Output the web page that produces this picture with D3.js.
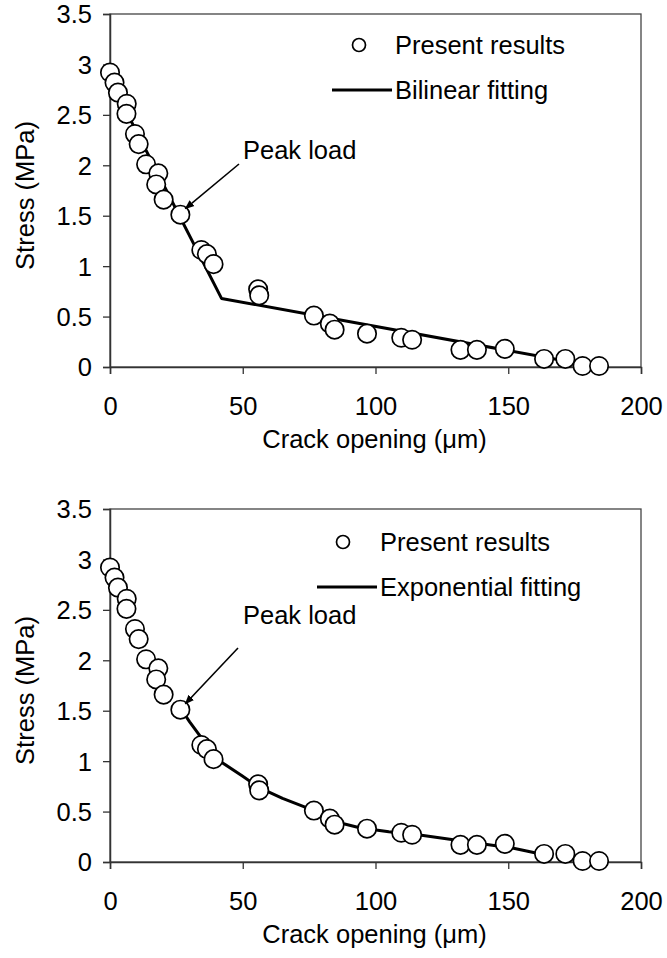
<!DOCTYPE html>
<html>
<head>
<meta charset="utf-8">
<script src="https://cdn.jsdelivr.net/npm/d3@7"></script>
<style>
  body { margin: 0; background: #fff; }
  svg { display: block; font-family: "Liberation Sans", Arial, sans-serif; }
</style>
</head>
<body>
<svg id="chart" width="667" height="958"></svg>
<script>
// ---- data ----
const crackOpening = [0, 1.7, 3, 6.3, 6.2, 9.4, 10.8, 13.6, 18.2, 17.4, 20.2, 26.5, 34.4, 36.5, 39, 55.8, 56.2, 76.8, 82.8, 84.6, 96.8, 109.7, 113.8, 132, 138.2, 148.7, 163.5, 171.5, 178, 184.2];
const stress = [2.92, 2.82, 2.72, 2.61, 2.51, 2.31, 2.21, 2.01, 1.92, 1.81, 1.66, 1.51, 1.16, 1.12, 1.02, 0.77, 0.71, 0.51, 0.43, 0.37, 0.33, 0.29, 0.27, 0.17, 0.17, 0.18, 0.08, 0.08, 0.01, 0.01];

const bilinearX = [0, 42, 184];
const bilinearY = [2.85, 0.68, 0.0];

const exponentialX = [26.7, 30, 35, 42, 50, 56, 65, 73, 80, 88, 94, 105, 116, 128, 140, 152, 160, 165];
const exponentialY = [1.52, 1.39, 1.21, 0.99, 0.85, 0.74, 0.63, 0.55, 0.47, 0.38, 0.34, 0.30, 0.27, 0.225, 0.18, 0.136, 0.092, 0.07];

const xTicks = [0, 50, 100, 150, 200];
const yTicks = [0, 0.5, 1, 1.5, 2, 2.5, 3, 3.5];

const peakIndex = 11;

const panels = [
  { top: 14, bottom: 367, fitX: bilinearX, fitY: bilinearY, fitLabel: "Bilinear fitting",
    legCircle: [359, 45], legText: [395, 45], legLine: [332, 392, 90], legText2: [395, 90],
    peakText: [243, 150], arrowFrom: [239, 164] },
  { top: 509, bottom: 862, fitX: exponentialX, fitY: exponentialY, fitLabel: "Exponential fitting",
    legCircle: [343, 542], legText: [380, 542], legLine: [317, 377, 587], legText2: [380, 587],
    peakText: [243, 615], arrowFrom: [238, 648] }
];

const svg = d3.select("#chart");
const FS = 25.5;
const left = 110, right = 641;

svg.append("defs").append("marker")
  .attr("id", "arrow").attr("viewBox", "0 0 10 10")
  .attr("refX", 9).attr("refY", 5)
  .attr("markerWidth", 6).attr("markerHeight", 6)
  .attr("orient", "auto")
  .append("path").attr("d", "M0,1 L10,5 L0,9 z").attr("fill", "#000");

panels.forEach(p => {
  const x = d3.scaleLinear().domain([0, 200]).range([left, right]);
  const y = d3.scaleLinear().domain([0, 3.5]).range([p.bottom, p.top]);
  const g = svg.append("g");

  // frame
  g.append("rect").attr("x", left).attr("y", p.top)
    .attr("width", right - left).attr("height", p.bottom - p.top)
    .attr("fill", "none").attr("stroke", "#444").attr("stroke-width", 1.3);

  // axes
  const xAxis = d3.axisBottom(x).tickValues(xTicks).tickSize(7).tickFormat(d3.format("d"));
  const gx = g.append("g").attr("transform", `translate(0,${p.bottom})`).call(xAxis);
  gx.select(".domain").attr("stroke", "#333").attr("stroke-width", 1.5);
  gx.selectAll(".tick line").attr("stroke", "#333").attr("stroke-width", 1.3);
  gx.selectAll(".tick text").attr("font-size", FS).attr("fill", "#000")
    .attr("y", 48).attr("dy", 0).attr("font-family", "Liberation Sans, Arial, sans-serif");

  const yAxis = d3.axisLeft(y).tickValues(yTicks).tickSize(7).tickFormat(d => d3.format("~g")(d));
  const gy = g.append("g").attr("transform", `translate(${left},0)`).call(yAxis);
  gy.select(".domain").attr("stroke", "#333").attr("stroke-width", 1.5);
  gy.selectAll(".tick line").attr("stroke", "#333").attr("stroke-width", 1.3);
  gy.selectAll(".tick text").attr("font-size", FS).attr("fill", "#000")
    .attr("x", -18).attr("dy", "0.35em").attr("font-family", "Liberation Sans, Arial, sans-serif");

  // axis titles
  g.append("text").attr("x", (left + right) / 2 - 1).attr("y", p.bottom + 81)
    .attr("text-anchor", "middle").attr("font-size", FS).text("Crack opening (\u03bcm)");
  g.append("text")
    .attr("transform", `translate(25,${(p.top + p.bottom) / 2 + 5}) rotate(-90)`)
    .attr("text-anchor", "middle").attr("dy", "0.35em").attr("font-size", FS)
    .text("Stress (MPa)");

  // fit line
  const fit = p.fitX.map((v, i) => [v, p.fitY[i]]);
  g.append("path").datum(fit)
    .attr("d", d3.line().x(d => x(d[0])).y(d => y(d[1])))
    .attr("fill", "none").attr("stroke", "#000").attr("stroke-width", 3)
    .attr("stroke-linejoin", "round");

  // points
  const pts = crackOpening.map((v, i) => [v, stress[i]]);
  g.selectAll("circle.pt").data(pts).join("circle").attr("class", "pt")
    .attr("cx", d => x(d[0])).attr("cy", d => y(d[1])).attr("r", 9.2)
    .attr("fill", "#fff").attr("stroke", "#000").attr("stroke-width", 1.7);

  // peak load annotation
  const px = x(crackOpening[peakIndex]), py = y(stress[peakIndex]);
  g.append("line").attr("x1", p.arrowFrom[0]).attr("y1", p.arrowFrom[1])
    .attr("x2", px + 5).attr("y2", py - 6)
    .attr("stroke", "#000").attr("stroke-width", 1.6).attr("marker-end", "url(#arrow)");
  g.append("text").attr("x", p.peakText[0]).attr("y", p.peakText[1]).attr("dy", "0.35em")
    .attr("font-size", FS).text("Peak load");

  // legend
  g.append("circle").attr("cx", p.legCircle[0]).attr("cy", p.legCircle[1]).attr("r", 6.5)
    .attr("fill", "#fff").attr("stroke", "#000").attr("stroke-width", 1.7);
  g.append("text").attr("x", p.legText[0]).attr("y", p.legText[1]).attr("dy", "0.35em")
    .attr("font-size", FS).text("Present results");
  g.append("line").attr("x1", p.legLine[0]).attr("x2", p.legLine[1])
    .attr("y1", p.legLine[2]).attr("y2", p.legLine[2])
    .attr("stroke", "#000").attr("stroke-width", 3);
  g.append("text").attr("x", p.legText2[0]).attr("y", p.legText2[1]).attr("dy", "0.35em")
    .attr("font-size", FS).text(p.fitLabel);
});
</script>
</body>
</html>
